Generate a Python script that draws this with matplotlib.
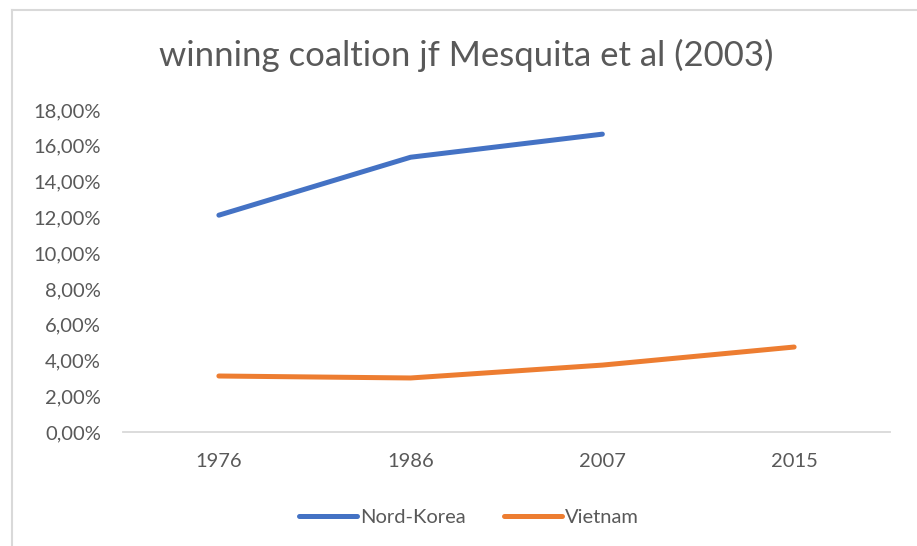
import matplotlib

matplotlib.use("Agg")
import matplotlib.pyplot as plt
from matplotlib.lines import Line2D
from matplotlib.ticker import FuncFormatter

# dados (fração, 0.12 = 12%)
anos = ["1976", "1986", "2007", "2015"]
nord_korea = [0.1212, 0.1536, 0.1665]
vietnam = [0.0313, 0.0302, 0.0374, 0.0475]
yticks = [0.00, 0.02, 0.04, 0.06, 0.08, 0.10, 0.12, 0.14, 0.16, 0.18]

AZUL = "#4472C4"
LARANJA = "#ED7D31"
CINZA_TXT = "#595959"
CINZA_LINHA = "#D9D9D9"

plt.rcParams["font.family"] = ["Lato", "DejaVu Sans"]

W, H = 917, 546
fig = plt.figure(figsize=(W / 100, H / 100), dpi=100)
ax = fig.add_axes([123 / W, 1 - 432 / H, (890 - 123) / W, (432 - 110) / H])

x = list(range(len(anos)))
ax.plot(x[:len(nord_korea)], nord_korea, color=AZUL, lw=3.6,
        solid_capstyle="round", solid_joinstyle="round", label="Nord-Korea")
ax.plot(x, vietnam, color=LARANJA, lw=3.6,
        solid_capstyle="round", solid_joinstyle="round", label="Vietnam")

ax.set_xlim(-0.5, len(anos) - 0.5)
ax.set_ylim(0, 0.18)
ax.set_xticks(x)
ax.set_xticklabels(anos)
ax.set_yticks(yticks)
ax.yaxis.set_major_formatter(FuncFormatter(lambda v, _: f"{v * 100:.2f}%".replace(".", ",")))

for lado in ["top", "right", "left"]:
    ax.spines[lado].set_visible(False)
ax.spines["bottom"].set_color(CINZA_LINHA)
ax.spines["bottom"].set_linewidth(1.3)
ax.tick_params(axis="both", length=0, labelsize=14.5, colors=CINZA_TXT)
ax.tick_params(axis="x", pad=15)
ax.tick_params(axis="y", pad=16)

fig.text(466 / W, 1 - 55 / H, "winning coaltion jf Mesquita et al (2003)",
         ha="center", va="center", fontsize=25, color=CINZA_TXT)

leg = fig.legend(loc="center", bbox_to_anchor=(469 / W, 1 - 517 / H), ncol=2,
                 frameon=False, fontsize=14.5, handlelength=2.9, handletextpad=0.15,
                 columnspacing=1.9)
for t in leg.get_texts():
    t.set_color(CINZA_TXT)

# borda da área do gráfico (cortada à direita e embaixo)
fig.add_artist(Line2D([12 / W, 1.0], [1 - 10 / H, 1 - 10 / H], color=CINZA_LINHA, lw=1.5))
fig.add_artist(Line2D([12 / W, 12 / W], [0.0, 1 - 10 / H], color=CINZA_LINHA, lw=1.5))

fig.savefig("out.png", dpi=100)
